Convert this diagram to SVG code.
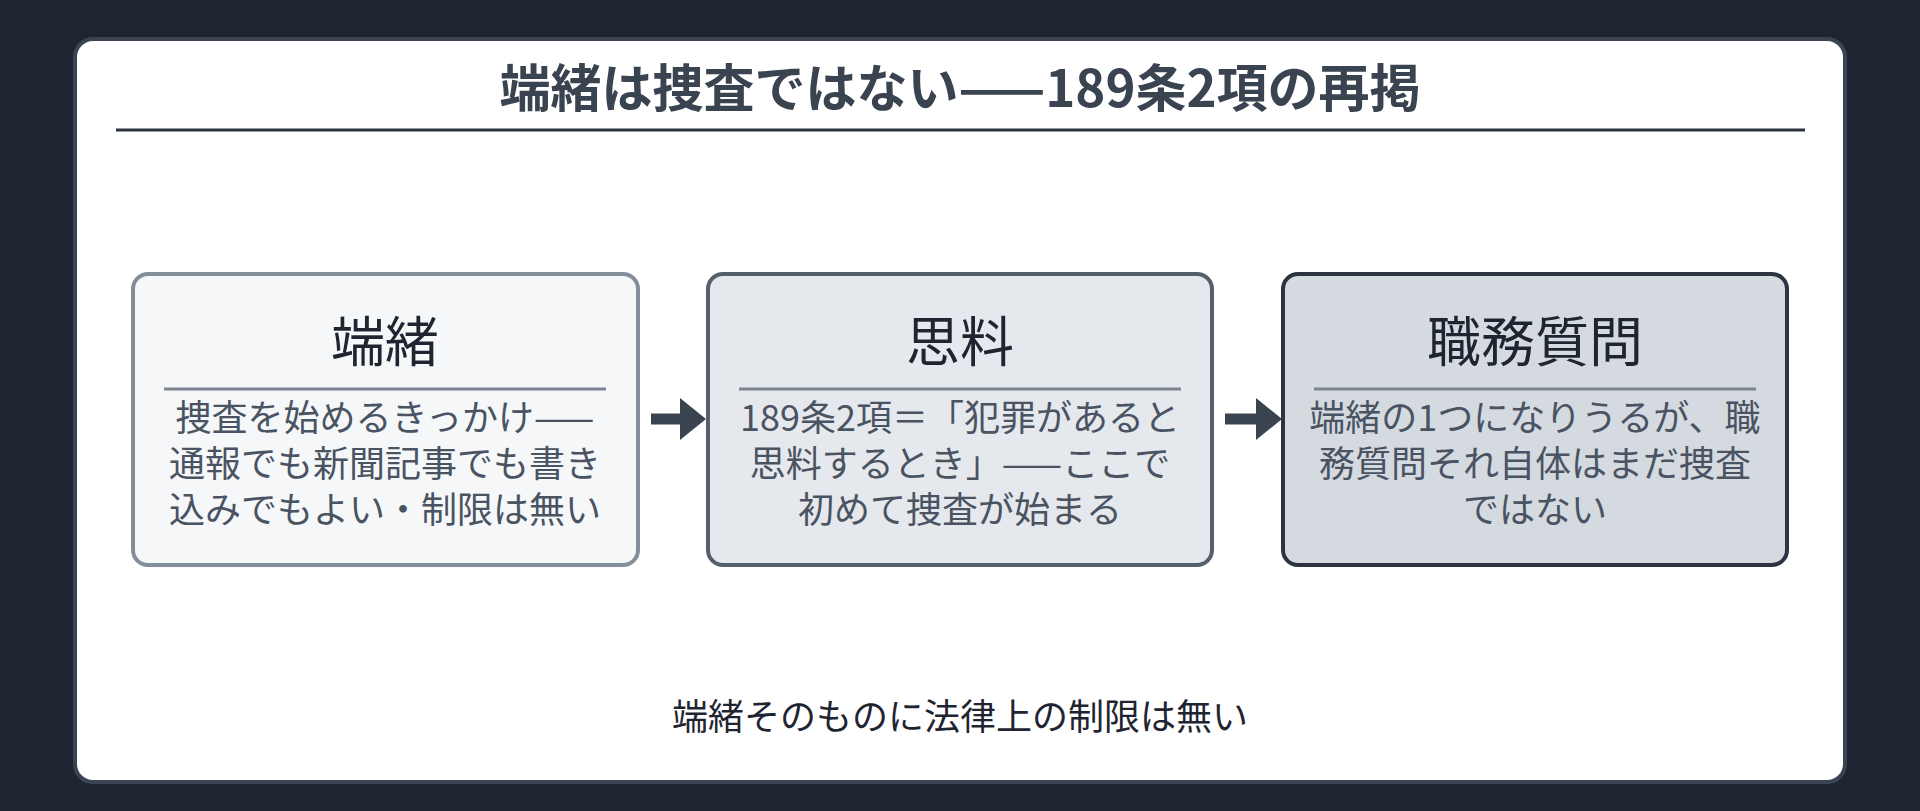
<svg xmlns="http://www.w3.org/2000/svg" width="1920" height="811" viewBox="0 0 1920 811">
<defs>
<style>
text{font-family:"Noto Sans CJK JP","Noto Sans",sans-serif;}
.title{font-size:51px;font-weight:700;fill:#3a4350;text-anchor:middle;}
.head{font-size:54px;fill:#1f2530;text-anchor:middle;}
.body{font-size:36px;fill:#4a5362;text-anchor:middle;}
.foot{font-size:36px;fill:#1f2530;text-anchor:middle;}
.div{stroke:#7b8491;stroke-width:3;}
.conn{stroke:#3a4350;stroke-width:11;fill:none;}
</style>
<marker id="ah" markerUnits="userSpaceOnUse" markerWidth="26" markerHeight="42" refX="0" refY="21" orient="auto">
<path d="M0,0 L26,21 L0,42 Z" fill="#3a4350"/>
</marker>
</defs>
<rect x="0" y="0" width="1920" height="811" fill="#1e2530"/>
<rect x="75" y="39" width="1770" height="743" rx="18" fill="#ffffff" stroke="#3b4452" stroke-width="4"/>
<text class="title" x="960" y="107">端緒は捜査ではない——189条2項の再掲</text>
<line x1="116" y1="130" x2="1805" y2="130" stroke="#2d3440" stroke-width="3"/>
<g id="node-tansho">
<rect x="133" y="274" width="505" height="291" rx="15" fill="#f5f7f9" stroke="#848d9a" stroke-width="4"/>
<text class="head" x="385" y="362">端緒</text>
<line class="div" x1="164" y1="389" x2="606" y2="389"/>
<text class="body" x="385" y="431">捜査を始めるきっかけ——</text>
<text class="body" x="385" y="477">通報でも新聞記事でも書き</text>
<text class="body" x="385" y="523">込みでもよい・制限は無い</text>
</g>
<g id="node-shiryo">
<rect x="708" y="274" width="504" height="291" rx="15" fill="#e5e8ec" stroke="#565f6c" stroke-width="4"/>
<text class="head" x="960" y="362">思料</text>
<line class="div" x1="739" y1="389" x2="1181" y2="389"/>
<text class="body" x="960" y="431">189条2項＝「犯罪があると</text>
<text class="body" x="960" y="477">思料するとき」——ここで</text>
<text class="body" x="960" y="523">初めて捜査が始まる</text>
</g>
<g id="node-shokumu">
<rect x="1283" y="274" width="504" height="291" rx="15" fill="#d5dae1" stroke="#2d3440" stroke-width="4"/>
<text class="head" x="1535" y="362">職務質問</text>
<line class="div" x1="1314" y1="389" x2="1756" y2="389"/>
<text class="body" x="1535" y="431">端緒の1つになりうるが、職</text>
<text class="body" x="1535" y="477">務質問それ自体はまだ捜査</text>
<text class="body" x="1535" y="523">ではない</text>
</g>
<g id="connectors">
<line class="conn" x1="651" y1="419" x2="680" y2="419" marker-end="url(#ah)"/>
<line class="conn" x1="1225" y1="419" x2="1256" y2="419" marker-end="url(#ah)"/>
</g>
<text class="foot" x="960" y="730">端緒そのものに法律上の制限は無い</text>
</svg>
